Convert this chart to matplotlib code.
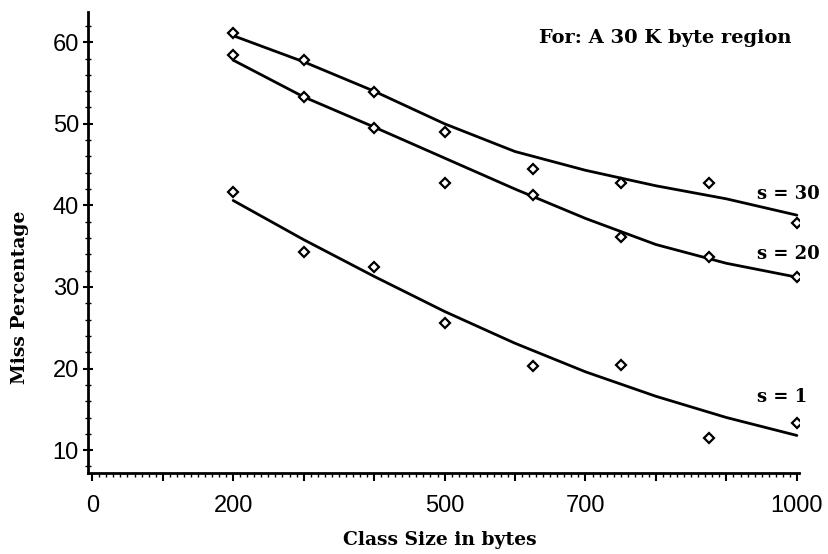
import matplotlib
matplotlib.use("Agg")
import matplotlib.pyplot as plt
from matplotlib.ticker import MultipleLocator

# measured points (class size in bytes, miss percentage)
class_size = [200, 300, 400, 500, 625, 750, 875, 1000]
miss_s30 = [61.1, 57.8, 53.9, 49.0, 44.4, 42.7, 42.8, 37.9]
miss_s20 = [58.4, 53.3, 49.5, 42.7, 41.3, 36.1, 33.7, 31.2]
miss_s1 = [41.6, 34.3, 32.4, 25.6, 20.3, 20.4, 11.5, 13.3]

# fitted curves
curve_x = [200, 300, 400, 500, 600, 700, 800, 900, 1000]
curve_s30 = [60.8, 57.6, 54.0, 50.0, 46.6, 44.3, 42.4, 40.8, 38.8]
curve_s20 = [57.8, 53.3, 49.6, 45.8, 42.0, 38.4, 35.2, 32.9, 31.2]
curve_s1 = [40.6, 35.8, 31.3, 27.0, 23.1, 19.6, 16.6, 14.0, 11.8]

series_labels = ["s = 30", "s = 20", "s = 1"]
label_y = [41.4, 34.1, 16.5]

xtick_labels = ["0", "200", "500", "700", "1000"]
xtick_pos = [0, 200, 500, 700, 1000]

W, H = 829, 554
fig = plt.figure(figsize=(W / 100, H / 100), dpi=100)
ax = fig.add_axes([88 / W, 1 - 473 / H, 711 / W, 461 / H])

serif = "DejaVu Serif"
sans = "Liberation Sans"

for cy in [curve_s30, curve_s20, curve_s1]:
    ax.plot(curve_x, cy, color="black", lw=2.0, solid_capstyle="round", zorder=2)
for my in [miss_s30, miss_s20, miss_s1]:
    ax.plot(class_size, my, ls="none", marker="D", ms=5.5, mfc="white",
            mec="black", mew=1.6, zorder=3)

for lab, ly in zip(series_labels, label_y):
    ax.text(944, ly, lab, fontsize=13, fontweight="bold", family=serif,
            ha="left", va="center")

ax.text(634, 60.5, "For: A 30 K byte region", fontsize=14, fontweight="bold",
        family=serif, ha="left", va="center")

ax.set_xlim(-6, 1003)
ax.set_ylim(7.2, 63.7)

for side in ["top", "right"]:
    ax.spines[side].set_visible(False)
for side in ["left", "bottom"]:
    ax.spines[side].set_linewidth(2)

ax.xaxis.set_major_locator(MultipleLocator(100))
ax.xaxis.set_minor_locator(MultipleLocator(10))
ax.xaxis.set_major_formatter(plt.FuncFormatter(
    lambda v, p: xtick_labels[xtick_pos.index(int(round(v)))] if int(round(v)) in xtick_pos else ""))
ax.yaxis.set_major_locator(MultipleLocator(10))
ax.yaxis.set_minor_locator(MultipleLocator(2))

ax.tick_params(axis="x", which="major", direction="out", length=6, width=1.5, pad=10)
ax.tick_params(axis="x", which="minor", direction="out", length=3, width=1)
ax.tick_params(axis="y", which="major", direction="inout", length=7, width=1.5, pad=3)
ax.tick_params(axis="y", which="minor", direction="inout", length=4, width=1)
for t in ax.get_xticklabels() + ax.get_yticklabels():
    t.set_fontfamily(sans)
    t.set_fontsize(17)

fig.text(440 / W, 1 - 540 / H, "Class Size in bytes", fontsize=13.5, fontweight="bold",
         family=serif, ha="center", va="center")
fig.text(20 / W, 1 - 297 / H, "Miss Percentage", fontsize=13.5, fontweight="bold",
         family=serif, ha="center", va="center", rotation=90)

fig.savefig("out.png", dpi=100)
